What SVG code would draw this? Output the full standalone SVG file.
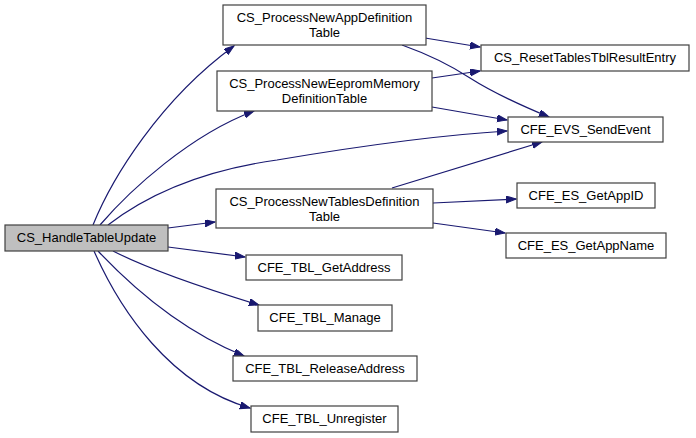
<svg xmlns="http://www.w3.org/2000/svg" width="696" height="438" viewBox="0 0 696 438">
<style>
.n rect{fill:#ffffff;stroke:#404040;stroke-width:1.2}
.n.root rect{fill:#bfbfbf}
.n text{font-family:"Liberation Sans",Arial,sans-serif;font-size:13px;fill:#000;text-anchor:middle}
.e path{fill:none;stroke:#191970;stroke-width:1.2;marker-end:url(#ah)}
</style>
<defs>
<marker id="ah" markerUnits="userSpaceOnUse" markerWidth="11" markerHeight="8" refX="10" refY="3.5" orient="auto">
<path d="M0,0 L10,3.5 L0,7 z" fill="#191970" stroke="#191970" stroke-width="1"/>
</marker>
</defs>
<rect width="696" height="438" fill="#ffffff"/>
<g id="edges" class="e">
<path d="M93,225 C112,178 160,100 234,46"/>
<path d="M100,225 C130,190 190,135 254,111"/>
<path d="M108,225 C160,185 220,168 277,160 C360,146 440,135 507,131"/>
<path d="M168,228 L215,222"/>
<path d="M168,247 L245,257"/>
<path d="M113,251 C150,270 210,290 259,305"/>
<path d="M98,251 C130,285 180,330 244,356"/>
<path d="M94,251 C120,310 170,385 250,408"/>
<path d="M425,38 L480,47"/>
<path d="M402,45 C430,55 450,65 470,78 C495,94 520,105 549,117"/>
<path d="M432,78 L480,71"/>
<path d="M432,107 L507,120"/>
<path d="M392,188 L542,142"/>
<path d="M433,203 L516,199"/>
<path d="M433,223 L505,233"/>
</g>
<g id="CS_HandleTableUpdate" class="n root"><rect x="5" y="225" width="163" height="26"/><text x="86.5" y="242">CS_HandleTableUpdate</text></g>
<g id="CS_ProcessNewAppDefinitionTable" class="n"><rect x="223" y="5" width="203" height="40"/><text x="324.5" y="22">CS_ProcessNewAppDefinition</text><text x="324.5" y="37">Table</text></g>
<g id="CS_ProcessNewEepromMemoryDefinitionTable" class="n"><rect x="217" y="71" width="215" height="40"/><text x="324.5" y="88">CS_ProcessNewEepromMemory</text><text x="324.5" y="103">DefinitionTable</text></g>
<g id="CS_ProcessNewTablesDefinitionTable" class="n"><rect x="216" y="189" width="217" height="39"/><text x="324.5" y="206">CS_ProcessNewTablesDefinition</text><text x="324.5" y="221">Table</text></g>
<g id="CFE_TBL_GetAddress" class="n"><rect x="246" y="255" width="156" height="25"/><text x="324" y="272">CFE_TBL_GetAddress</text></g>
<g id="CFE_TBL_Manage" class="n"><rect x="258" y="305" width="134" height="26"/><text x="325" y="322">CFE_TBL_Manage</text></g>
<g id="CFE_TBL_ReleaseAddress" class="n"><rect x="233" y="356" width="184" height="25"/><text x="325" y="373">CFE_TBL_ReleaseAddress</text></g>
<g id="CFE_TBL_Unregister" class="n"><rect x="251" y="406" width="147" height="26"/><text x="324.5" y="423">CFE_TBL_Unregister</text></g>
<g id="CS_ResetTablesTblResultEntry" class="n"><rect x="481" y="45" width="208" height="26"/><text x="585" y="62">CS_ResetTablesTblResultEntry</text></g>
<g id="CFE_EVS_SendEvent" class="n"><rect x="508" y="117" width="155" height="25"/><text x="585.5" y="134">CFE_EVS_SendEvent</text></g>
<g id="CFE_ES_GetAppID" class="n"><rect x="517" y="183" width="138" height="25"/><text x="586" y="200">CFE_ES_GetAppID</text></g>
<g id="CFE_ES_GetAppName" class="n"><rect x="506" y="233" width="160" height="25"/><text x="586" y="250">CFE_ES_GetAppName</text></g>
</svg>
